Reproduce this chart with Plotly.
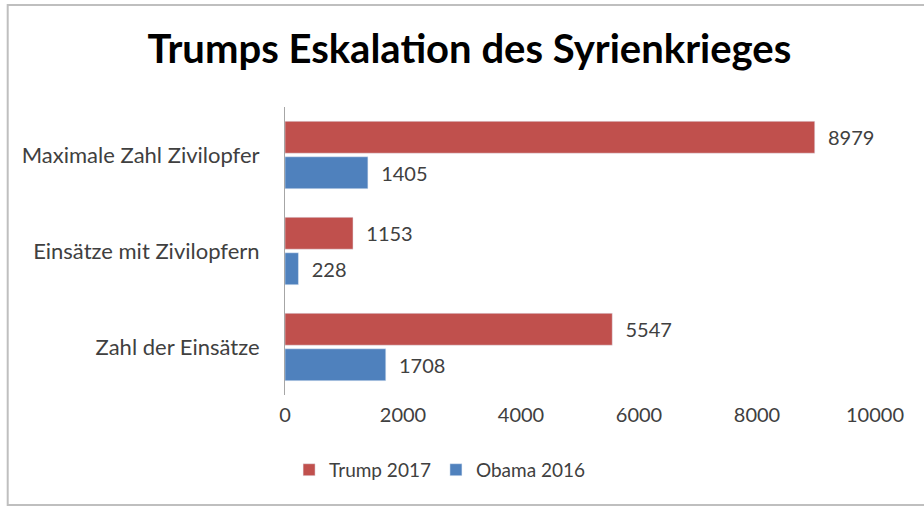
import plotly.graph_objects as go

categories = ["Zahl der Einsätze", "Einsätze mit Zivilopfern", "Maximale Zahl Zivilopfer"]
trump_2017 = [5547, 1153, 8979]
obama_2016 = [1708, 228, 1405]
x_ticks = [0, 2000, 4000, 6000, 8000, 10000]

RED = "#C0504D"
BLUE = "#4F81BD"
TXT = "#404040"
FONT = "Lato"

fig = go.Figure()
fig.add_trace(go.Bar(
    y=categories, x=obama_2016, orientation="h", name="Obama 2016",
    marker=dict(color=BLUE), legendrank=2,
    text=obama_2016, texttemplate="\u00a0\u00a0%{x}", textposition="outside",
    textfont=dict(family=FONT, size=20, color=TXT), cliponaxis=False,
))
fig.add_trace(go.Bar(
    y=categories, x=trump_2017, orientation="h", name="Trump 2017",
    marker=dict(color=RED), legendrank=1,
    text=trump_2017, texttemplate="\u00a0\u00a0%{x}", textposition="outside",
    textfont=dict(family=FONT, size=20, color=TXT), cliponaxis=False,
))

fig.update_layout(
    width=924, height=506,
    margin=dict(l=285, r=49, t=107, b=111),
    paper_bgcolor="white", plot_bgcolor="white",
    barmode="group", bargap=0.26, bargroupgap=0.1,
    font=dict(family=FONT, color=TXT),
    title=dict(text="<b>Trumps Eskalation des Syrienkrieges</b>",
               x=0.508, xanchor="center", y=0.903, yanchor="middle",
               font=dict(family=FONT, size=40, color="black")),
    xaxis=dict(range=[0, 10000], tickvals=x_ticks, ticktext=[str(v) for v in x_ticks],
               showgrid=False, zeroline=False, showline=False, ticks="",
               tickfont=dict(family=FONT, size=20, color=TXT), ticklabelstandoff=6),
    yaxis=dict(showgrid=False, zeroline=False, showline=True, linecolor="#A6A6A6",
               linewidth=1, ticks="", ticklabelstandoff=20,
               tickfont=dict(family=FONT, size=22, color=TXT)),
    legend=dict(orientation="h", x=0.262, xanchor="center", y=-0.26, yanchor="middle",
                font=dict(family=FONT, size=19, color=TXT), itemwidth=30,
                traceorder="normal"),
    showlegend=True,
)

# chart area border
fig.add_shape(type="rect", xref="paper", yref="paper",
              x0=-0.47, x1=1.2, y0=-0.382, y1=1.354,
              line=dict(color="#BFBFBF", width=2), fillcolor="rgba(0,0,0,0)", layer="below")

fig.write_html("out.html")
